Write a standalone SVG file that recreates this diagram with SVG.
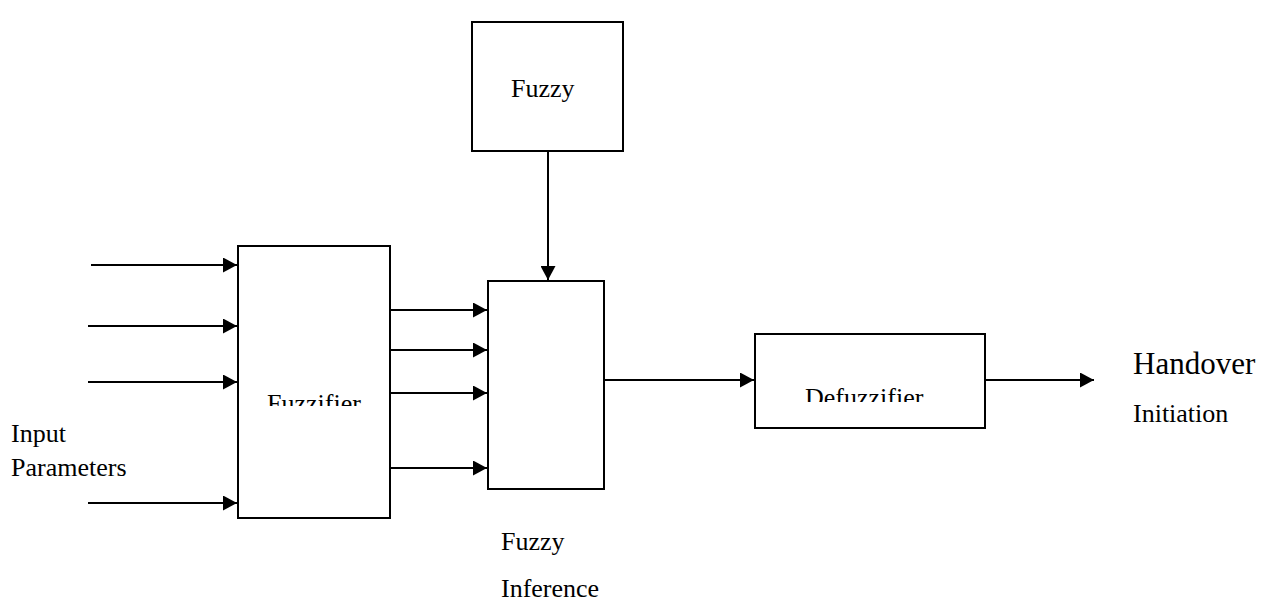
<svg xmlns="http://www.w3.org/2000/svg" width="1268" height="601" viewBox="0 0 1268 601">
<style>
.box{fill:#fff;stroke:#000;stroke-width:2}
.ln{stroke:#000;stroke-width:2;fill:none;marker-end:url(#ah)}
text{font-family:"Liberation Serif","Times New Roman",serif;font-size:26px;fill:#000}
.big{font-size:31px}
</style>
<defs>
<marker id="ah" markerUnits="userSpaceOnUse" markerWidth="14" markerHeight="15" refX="14" refY="7.5" orient="auto">
<path d="M0,0 L14,7.5 L0,15 Z" fill="#000"/>
</marker>
<clipPath id="cf"><rect x="239" y="247" width="150" height="159"/></clipPath>
<clipPath id="cd"><rect x="756" y="335" width="228" height="67"/></clipPath>
</defs>
<rect width="1268" height="601" fill="#fff"/>
<g id="fuzzy-rules">
<rect class="box" x="472" y="22" width="151" height="129"/>
<text x="511" y="97">Fuzzy</text>
</g>
<g id="fuzzifier">
<rect class="box" x="238" y="246" width="152" height="272"/>
<text x="267" y="412" clip-path="url(#cf)">Fuzzifier</text>
</g>
<g id="inference">
<rect class="box" x="488" y="281" width="116" height="208"/>
<text x="501" y="550">Fuzzy</text>
<text x="501" y="597">Inference</text>
</g>
<g id="defuzzifier">
<rect class="box" x="755" y="334" width="230" height="94"/>
<text x="805" y="406" clip-path="url(#cd)">Defuzzifier</text>
</g>
<g id="input-label">
<text x="11" y="442">Input</text>
<text x="11" y="476">Parameters</text>
</g>
<g id="output-label">
<text class="big" x="1133" y="374">Handover</text>
<text x="1133" y="422">Initiation</text>
</g>
<g id="connectors">
<line class="ln" x1="91" y1="265" x2="237" y2="265"/>
<line class="ln" x1="88" y1="326" x2="237" y2="326"/>
<line class="ln" x1="88" y1="382" x2="237" y2="382"/>
<line class="ln" x1="88" y1="503" x2="237" y2="503"/>
<line class="ln" x1="391" y1="310" x2="487" y2="310"/>
<line class="ln" x1="391" y1="350" x2="487" y2="350"/>
<line class="ln" x1="391" y1="393" x2="487" y2="393"/>
<line class="ln" x1="391" y1="468" x2="487" y2="468"/>
<line class="ln" x1="548" y1="151" x2="548" y2="280"/>
<line class="ln" x1="605" y1="380" x2="754" y2="380"/>
<line class="ln" x1="986" y1="380" x2="1094" y2="380"/>
</g>
</svg>
